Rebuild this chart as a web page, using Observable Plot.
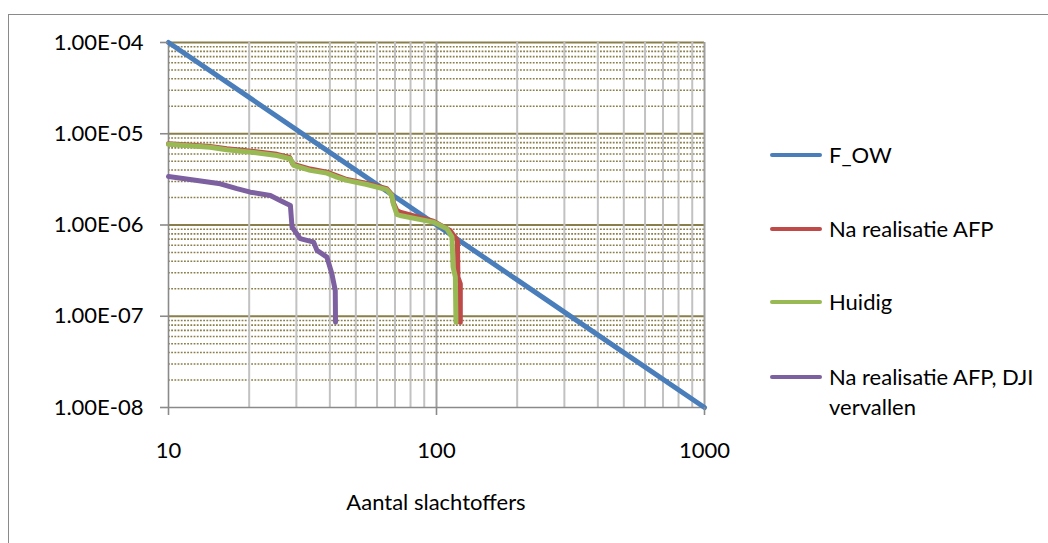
<!DOCTYPE html>
<html>
<head>
<meta charset="utf-8">
<script src="https://cdn.jsdelivr.net/npm/d3@7"></script>
<script src="https://cdn.jsdelivr.net/npm/@observablehq/plot@0.6"></script>
<style>
  body { margin: 0; background: #fff; font-family: Lato, "Open Sans", sans-serif; }
  #wrap { position: relative; width: 1048px; height: 543px; overflow: hidden; background: #fff; }
  #frame { position: absolute; left: 8px; top: 14px; width: 1200px; height: 700px;
           border-left: 1.5px solid #8a8a8a; border-top: 1.5px solid #8a8a8a; }
  #chart { position: absolute; left: 0; top: 0; }
  .leg { position: absolute; left: 770px; font-size: 22px; color: #000; }
  .leg .sw { position: absolute; left: 0; width: 52px; height: 4px; border-radius: 2px; }
  .leg .tx { position: absolute; left: 59px; line-height: 30px; white-space: nowrap; }
  #xtitle { position: absolute; left: 0; width: 872px; text-align: center; top: 491px;
            font-size: 22px; line-height: 22px; color: #000; }
</style>
</head>
<body>
<div id="wrap">
  <div id="frame"></div>
  <div id="chart"></div>
  <div id="xtitle"></div>
</div>
<script>
// ---- data ----
const xTicks = [10, 100, 1000];
const yTicks = [1e-8, 1e-7, 1e-6, 1e-5, 1e-4];
const xLabel = "Aantal slachtoffers";

const seriesNames = ["F_OW", "Na realisatie AFP", "Huidig", "Na realisatie AFP, DJI vervallen"];
const seriesColors = ["#4A7EBB", "#BE4B48", "#98B954", "#7D60A0"];

const fowN = [10, 20, 50, 100, 200, 500, 1000];
const fowF = [1e-4, 2.5e-5, 4e-6, 1e-6, 2.5e-7, 4e-8, 1e-8];

const afpN = [10, 14.3, 16.5, 20.8, 25.4, 28.3, 29.1, 33.8, 39, 42.5, 46.3, 55, 65.2, 68.1, 69, 71.1, 73.1, 97.3, 112.3, 119.7, 120.2, 122.7, 122.7];
const afpF = [7.75e-6, 7.25e-6, 6.85e-6, 6.4e-6, 5.95e-6, 5.5e-6, 4.65e-6, 4.1e-6, 3.8e-6, 3.45e-6, 3.15e-6, 2.85e-6, 2.5e-6, 2.15e-6, 1.75e-6, 1.45e-6, 1.38e-6, 1.10e-6, 8.73e-7, 6.78e-7, 2.69e-7, 2.27e-7, 8.6e-8];

const huidigN = [10, 14.3, 16.5, 20.8, 25.4, 28.5, 29.3, 33.8, 39, 42.5, 46.3, 55, 65.2, 68.1, 69, 71.1, 73.1, 97.3, 109.3, 114.3, 115.3, 117.6, 118.2];
const huidigF = [7.65e-6, 7.13e-6, 6.68e-6, 6.24e-6, 5.78e-6, 5.32e-6, 4.5e-6, 3.97e-6, 3.7e-6, 3.35e-6, 3.08e-6, 2.78e-6, 2.44e-6, 2.11e-6, 1.71e-6, 1.31e-6, 1.27e-6, 1.076e-6, 9.1e-7, 7.37e-7, 3.46e-7, 2.69e-7, 8.6e-8];

const djiN = [10, 12.8, 15.6, 18, 20.2, 24, 26.1, 28.5, 28.9, 31, 34.8, 35.8, 39, 40.7, 41.9, 42];
const djiF = [3.4e-6, 3.08e-6, 2.83e-6, 2.5e-6, 2.29e-6, 2.11e-6, 1.86e-6, 1.64e-6, 9.5e-7, 7.08e-7, 6.5e-7, 5.27e-7, 4.45e-7, 2.92e-7, 1.92e-7, 8.6e-8];

// ---- build tables ----
const toRows = (N, F, s) => N.map((n, i) => ({n, f: F[i], s}));
const rows = [
  ...toRows(fowN, fowF, seriesNames[0]),
  ...toRows(afpN, afpF, seriesNames[1]),
  ...toRows(huidigN, huidigF, seriesNames[2]),
  ...toRows(djiN, djiF, seriesNames[3])
];

// gridline positions (2..9 within each decade)
const mult = [2, 3, 4, 5, 6, 7, 8, 9];
const yMinor = yTicks.slice(0, -1).flatMap(d => mult.map(k => k * d));
const xMinor = xTicks.slice(0, -1).flatMap(d => mult.map(k => k * d));

const fmt = d => {
  const e = Math.round(Math.log10(d));
  return "1.00E" + (e < 0 ? "-" : "+") + String(Math.abs(e)).padStart(2, "0");
};

const olive = "#8A7F4A";
const axisGray = "#8a8a8a";

const chart = Plot.plot({
  width: 1048,
  height: 543,
  marginLeft: 168,
  marginRight: 344,
  marginTop: 42,
  marginBottom: 136,
  style: { fontFamily: "Lato, 'Open Sans', sans-serif", fontSize: "22px", color: "#000", background: "transparent" },
  x: { type: "log", domain: [10, 1000] },
  y: { type: "log", domain: [1e-8, 1e-4] },
  color: { domain: seriesNames, range: seriesColors },
  marks: [
    Plot.ruleY(yMinor, { stroke: olive, strokeWidth: 1.6, strokeDasharray: "1.8,1.4" }),
    Plot.ruleY(yTicks.slice(1), { stroke: olive, strokeWidth: 1.8 }),
    Plot.ruleX(xMinor, { stroke: "#c2c2c2", strokeWidth: 2 }),
    Plot.ruleX([100, 1000], { stroke: "#a0a0a0", strokeWidth: 2 }),
    Plot.ruleX([10], { stroke: axisGray, strokeWidth: 1.6 }),
    Plot.ruleY([1e-8], { stroke: axisGray, strokeWidth: 1.6 }),
    Plot.line(rows, {
      x: "n", y: "f", z: "s", stroke: "s",
      strokeWidth: 5, strokeLinejoin: "round", strokeLinecap: "round"
    }),
    Plot.axisY({
      ticks: yTicks, tickFormat: fmt, tickSize: 8, tickPadding: 17,
      stroke: axisGray, strokeWidth: 1.6, fontSize: 22, label: null
    }),
    Plot.axisX({
      ticks: xTicks, tickFormat: d => String(d), tickSize: 8, tickPadding: 27,
      stroke: axisGray, strokeWidth: 1.6, fontSize: 22, label: null
    })
  ]
});
document.getElementById("chart").appendChild(chart);

document.getElementById("xtitle").textContent = xLabel;

// ---- legend ----
const legendY = [155, 229, 302, 377];
const wrap = document.getElementById("wrap");
seriesNames.forEach((name, i) => {
  const item = document.createElement("div");
  item.className = "leg";
  item.style.top = legendY[i] + "px";
  const sw = document.createElement("div");
  sw.className = "sw";
  sw.style.background = seriesColors[i];
  sw.style.top = "-2px";
  const tx = document.createElement("div");
  tx.className = "tx";
  tx.style.top = "-15px";
  if (i === 3) {
    tx.innerHTML = "Na realisatie AFP, DJI<br>vervallen";
  } else {
    tx.textContent = name;
  }
  item.appendChild(sw);
  item.appendChild(tx);
  wrap.appendChild(item);
});
</script>
</body>
</html>
